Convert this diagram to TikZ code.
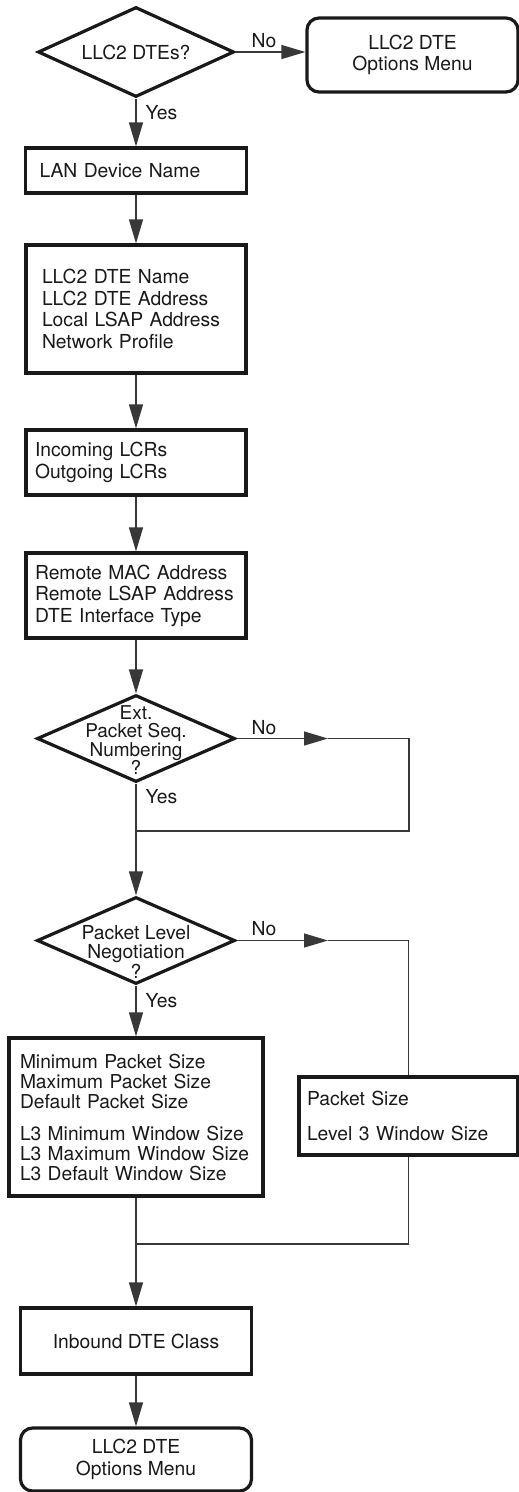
\documentclass[tikz,border=0pt]{standalone}
\usepackage{fontspec}
\setmainfont{TeX Gyre Heros}
\usetikzlibrary{shapes.geometric,arrows.meta}
\begin{document}
\begin{tikzpicture}[x=1pt,y=-1pt,
  every node/.style={font=\fontsize{19.3}{21.6}\selectfont, text=black!90},
  box/.style={draw=black!90, line width=3.2pt, rectangle, inner ysep=0pt, align=left},
  term/.style={draw=black!90, line width=3.2pt, rectangle, rounded corners=12pt, align=center, inner sep=0pt},
  dia/.style={draw=black!90, line width=3.2pt, diamond, inner sep=0pt},
  conn/.style={draw=black!78, line width=1.3pt},
  arr/.style={conn, -{Triangle[length=24pt,width=14pt]}},
  lbl/.style={inner sep=0pt}
]
\useasboundingbox (0,0) rectangle (519,1492);

% decisions
\node[dia, minimum width=196pt, minimum height=90pt,
  label={[lbl]center:LLC2 DTEs?}] (d1) at (136,52) {};
\node[term, minimum width=211pt, minimum height=74pt] (r1) at (412.5,55) {LLC2 DTE\\Options Menu};

% boxes
\node[box, minimum height=45pt, text width=193pt, inner xsep=14pt] (lan) at (136,170.5) {LAN Device Name};
\node[box, minimum height=128pt, text width=188pt, inner xsep=16pt] (ids) at (136,309)
  {LLC2 DTE Name\\LLC2 DTE Address\\Local LSAP Address\\Network Profile};
\node[box, minimum height=65pt, text width=202pt, inner xsep=9pt] (lcr) at (136,462.5)
  {Incoming LCRs\\Outgoing LCRs};
\node[box, minimum height=85pt, text width=202pt, inner xsep=9pt] (rem) at (136,595.5)
  {Remote MAC Address\\Remote LSAP Address\\DTE Interface Type};

\node[dia, minimum width=198pt, minimum height=87pt,
  label={[lbl, align=center, font=\fontsize{19}{18.5}\selectfont, yshift=-1.5pt]center:Ext.\\Packet Seq.\\Numbering\\?}] (d2) at (136,738.5) {};

\node[dia, minimum width=198pt, minimum height=87pt,
  label={[lbl, align=center, font=\fontsize{19.3}{19.5}\selectfont, yshift=-11pt]center:Packet Level\\Negotiation\\?}] (d3) at (136,940.5) {};

\node[box, minimum height=158pt, text width=232pt, inner xsep=11pt,
  font=\fontsize{19.2}{20}\selectfont] (sz) at (136,1117)
  {Minimum Packet Size\\Maximum Packet Size\\Default Packet Size\\[12pt]L3 Minimum Window Size\\L3 Maximum Window Size\\L3 Default Window Size};
\node[box, minimum height=78pt, text width=203pt, inner xsep=8pt] (ps) at (408.5,1116)
  {Packet Size\\[13pt]Level 3 Window Size};

\node[box, minimum height=66pt, minimum width=231pt, align=center] (inb) at (136,1341) {Inbound DTE Class};
\node[term, minimum width=231pt, minimum height=63pt] (r2) at (136,1459.5) {LLC2 DTE\\Options Menu};

% helper coordinates
\coordinate (a2) at (328,738.5);
\coordinate (c2) at (409,738.5);
\coordinate (j1) at (136,831);
\coordinate (a3) at (328,940.5);
\coordinate (j2) at (136,1244);

% connectors
\draw[arr] (d1.east) -- (d1.east -| r1.west);
\draw[arr] (d1.south) -- (lan.north);
\draw[arr] (lan.south) -- (ids.north);
\draw[arr] (ids.south) -- (lcr.north);
\draw[arr] (lcr.south) -- (rem.north);
\draw[arr] (rem.south) -- (d2.north);

\draw[arr] (d2.east) -- (a2);
\draw[conn] (a2) -- (c2) |- (j1);
\draw[conn] (d2.south) -- (j1);
\draw[arr] (j1) -- (d3.north);

\draw[arr] (d3.east) -- (a3);
\draw[conn] (a3) -| (ps.north);
\draw[arr] (d3.south) -- (sz.north);

\draw[conn] (sz.south) -- (j2);
\draw[conn] (ps.south) |- (j2);
\draw[arr] (j2) -- (inb.north);
\draw[arr] (inb.south) -- (r2.north);

% branch labels
\node[lbl] (no1) at (264,41) {No};
\node[lbl] (yes1) at (161.5,113) {Yes};
\node[lbl] (no2) at (264,728) {No};
\node[lbl] (yes2) at (161.5,797) {Yes};
\node[lbl] (no3) at (264,929) {No};
\node[lbl] (yes3) at (161.5,1001) {Yes};
\end{tikzpicture}
\end{document}
